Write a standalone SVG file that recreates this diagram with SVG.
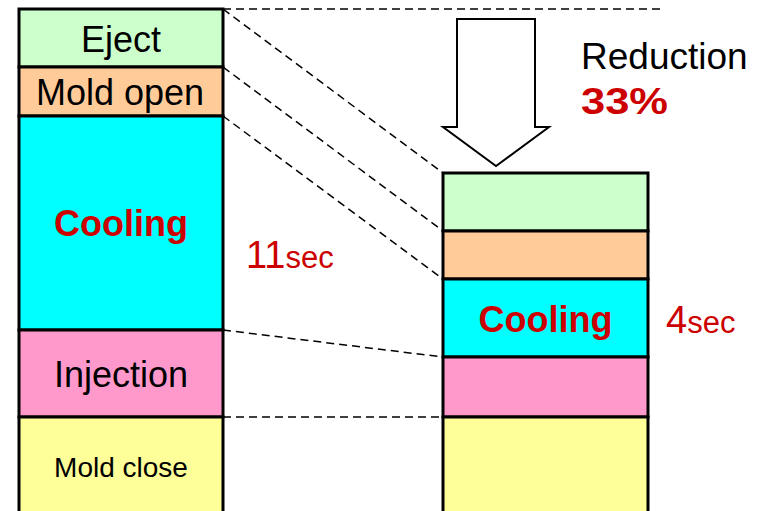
<svg xmlns="http://www.w3.org/2000/svg" width="761" height="511" viewBox="0 0 761 511">
  <style>
    .seg { stroke: #000; stroke-width: 3; }
    .lbl { font-family: "Liberation Sans", Arial, sans-serif; fill: #000; text-anchor: middle; }
    .red { font-family: "Liberation Sans", Arial, sans-serif; fill: #CC0000; }
    .bold { font-weight: bold; }
    .dash { stroke: #000; stroke-width: 1.5; stroke-dasharray: 8 5; fill: none; }
  </style>
  <rect width="761" height="511" fill="#fff"/>

  <!-- connectors: dashed guide lines between the two cycle bars -->
  <g id="connectors">
    <line class="dash" x1="223" y1="9" x2="663" y2="9"/>
    <line class="dash" x1="223" y1="9" x2="443" y2="173"/>
    <line class="dash" x1="223" y1="67" x2="443" y2="231"/>
    <line class="dash" x1="223" y1="116" x2="443" y2="279"/>
    <line class="dash" x1="223" y1="330" x2="443" y2="357"/>
    <line class="dash" x1="223" y1="417" x2="443" y2="417"/>
  </g>

  <!-- original cycle (left bar) -->
  <g id="left-eject">
    <rect class="seg" x="19" y="9" width="204" height="58" fill="#CCFFCC"/>
    <text class="lbl" x="121" y="52" font-size="36">Eject</text>
  </g>
  <g id="left-mold-open">
    <rect class="seg" x="19" y="67" width="204" height="49" fill="#FFCC99"/>
    <text class="lbl" x="120" y="105" font-size="36">Mold open</text>
  </g>
  <g id="left-cooling">
    <rect class="seg" x="19" y="116" width="204" height="214" fill="#00FFFF"/>
    <text class="red bold" x="121" y="236" font-size="36" text-anchor="middle">Cooling</text>
  </g>
  <g id="left-injection">
    <rect class="seg" x="19" y="330" width="204" height="87" fill="#FF99CC"/>
    <text class="lbl" x="121" y="387" font-size="36">Injection</text>
  </g>
  <g id="left-mold-close">
    <rect class="seg" x="19" y="417" width="204" height="110" fill="#FFFF99"/>
    <text class="lbl" x="121" y="477" font-size="28">Mold close</text>
  </g>
  <g id="left-time">
    <text class="red" x="246" y="268"><tspan font-size="38">11</tspan><tspan font-size="31">sec</tspan></text>
  </g>

  <!-- reduced cycle (right bar) -->
  <g id="right-eject">
    <rect class="seg" x="443" y="173" width="205" height="58" fill="#CCFFCC"/>
  </g>
  <g id="right-mold-open">
    <rect class="seg" x="443" y="231" width="205" height="48" fill="#FFCC99"/>
  </g>
  <g id="right-cooling">
    <rect class="seg" x="443" y="279" width="205" height="78" fill="#00FFFF"/>
    <text class="red bold" x="545.5" y="332" font-size="36" text-anchor="middle">Cooling</text>
  </g>
  <g id="right-injection">
    <rect class="seg" x="443" y="357" width="205" height="60" fill="#FF99CC"/>
  </g>
  <g id="right-mold-close">
    <rect class="seg" x="443" y="417" width="205" height="110" fill="#FFFF99"/>
  </g>
  <g id="right-time">
    <text class="red" x="666" y="333"><tspan font-size="38">4</tspan><tspan font-size="31">sec</tspan></text>
  </g>

  <!-- reduction arrow and caption -->
  <g id="reduction-arrow">
    <polygon points="457,19 535,19 535,127 549,127 496,166 443,127 457,127" fill="#fff" stroke="#000" stroke-width="2" stroke-linejoin="miter"/>
  </g>
  <g id="reduction-label">
    <text x="581" y="69" font-size="37" font-family="Liberation Sans, Arial, sans-serif" fill="#000">Reduction</text>
    <text class="red bold" x="581" y="114" font-size="36" textLength="87" lengthAdjust="spacingAndGlyphs">33%</text>
  </g>
</svg>
